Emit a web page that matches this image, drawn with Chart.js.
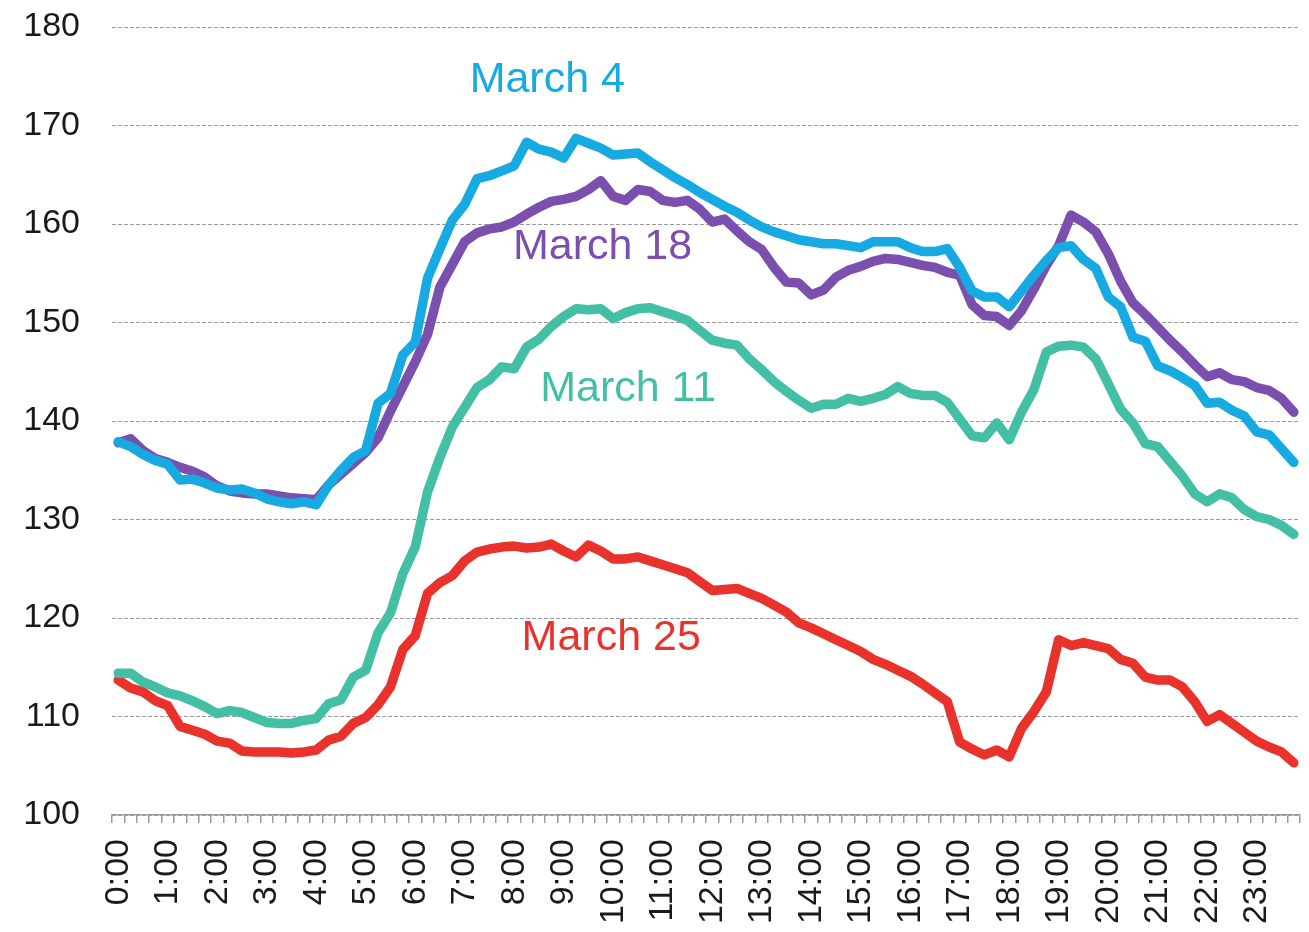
<!DOCTYPE html>
<html lang="en">
<head>
    <meta charset="UTF-8">
    <title>Traffic by time of day - March</title>
    <script src="https://cdn.jsdelivr.net/npm/chart.js"></script>
    <style>
        body {
            margin: 0;
            padding: 0;
            background-color: #ffffff;
        }
        #wrap {
            width: 1309px;
            height: 932px;
        }
    </style>
</head>
<body>
    <div id="wrap"><canvas id="grafico"></canvas></div>

    <script>
        // hour labels shown under the axis, one per 4 quarter-hour slots
        const hours = ['0:00','1:00','2:00','3:00','4:00','5:00','6:00','7:00','8:00','9:00','10:00','11:00',
                       '12:00','13:00','14:00','15:00','16:00','17:00','18:00','19:00','20:00','21:00','22:00','23:00'];
        const quarters = ['00', '15', '30', '45'];
        const times = [];
        hours.forEach(h => quarters.forEach(q => times.push(h.split(':')[0] + ':' + q)));

        const yTicks = [100, 110, 120, 130, 140, 150, 160, 170, 180];

        const march4 = [
            137.9, 137.4, 136.6, 136.0, 135.6, 134.0, 134.1, 133.7, 133.2, 133.0, 133.1, 132.7,
            132.1, 131.8, 131.6, 131.8, 131.5, 133.5, 135.0, 136.3, 137.0, 141.8, 142.8, 146.7,
            148.0, 154.5, 157.5, 160.4, 162.0, 164.6, 164.9, 165.4, 165.9, 168.3, 167.6, 167.3,
            166.7, 168.7, 168.2, 167.7, 167.0, 167.1, 167.2, 166.3, 165.5, 164.7, 164.0, 163.2,
            162.5, 161.8, 161.2, 160.4, 159.7, 159.2, 158.8, 158.4, 158.2, 158.0, 158.0, 157.8,
            157.6, 158.2, 158.2, 158.2, 157.6, 157.2, 157.2, 157.5, 155.6, 153.2, 152.6, 152.6,
            151.6, 153.2, 154.8, 156.3, 157.6, 157.8, 156.4, 155.5, 152.6, 151.6, 148.5, 148.1,
            145.6, 145.1, 144.4, 143.6, 141.8, 141.9, 141.1, 140.5, 138.9, 138.6, 137.2, 135.8
        ];
        const march18 = [
            137.8, 138.2, 137.0, 136.2, 135.8, 135.3, 134.9, 134.3, 133.4, 132.9, 132.7, 132.6,
            132.6, 132.4, 132.2, 132.1, 132.0, 133.5, 134.6, 135.7, 136.8, 138.3, 141.0, 143.5,
            146.0, 148.8, 153.6, 155.9, 158.2, 159.1, 159.5, 159.7, 160.2, 161.0, 161.7, 162.3,
            162.5, 162.8, 163.5, 164.4, 162.8, 162.4, 163.5, 163.3, 162.4, 162.2, 162.4, 161.5,
            160.2, 160.5, 159.3, 158.2, 157.4, 155.6, 154.1, 154.0, 152.8, 153.3, 154.6, 155.3,
            155.7, 156.2, 156.5, 156.4, 156.1, 155.8, 155.6, 155.1, 154.8, 151.8, 150.7, 150.6,
            149.7, 151.2, 153.4, 155.8, 157.8, 160.9, 160.2, 159.2, 157.0, 154.2, 152.0, 150.8,
            149.5, 148.2, 147.0, 145.7, 144.5, 144.9, 144.2, 144.0, 143.4, 143.1, 142.3, 140.9
        ];
        const march11 = [
            114.4, 114.4, 113.5, 113.0, 112.4, 112.1, 111.6, 111.0, 110.3, 110.6, 110.4, 109.9,
            109.4, 109.3, 109.3, 109.6, 109.8, 111.3, 111.7, 114.0, 114.7, 118.5, 120.5, 124.5,
            127.2, 132.8, 136.3, 139.4, 141.4, 143.4, 144.2, 145.5, 145.3, 147.5, 148.3, 149.6,
            150.6, 151.4, 151.3, 151.4, 150.4, 151.0, 151.4, 151.5, 151.1, 150.7, 150.2, 149.2,
            148.2, 147.9, 147.7, 146.3, 145.2, 144.0, 143.0, 142.1, 141.3, 141.7, 141.7, 142.3,
            142.0, 142.3, 142.7, 143.5, 142.8, 142.6, 142.6, 141.9, 140.2, 138.5, 138.3, 139.8,
            138.1, 140.9, 143.2, 147.0, 147.6, 147.7, 147.5, 146.3, 143.8, 141.2, 139.8, 137.7,
            137.4, 135.9, 134.4, 132.6, 131.8, 132.6, 132.2, 131.0, 130.3, 130.0, 129.4, 128.5
        ];
        const march25 = [
            113.7, 112.9, 112.5, 111.6, 111.1, 109.0, 108.6, 108.2, 107.5, 107.3, 106.5, 106.4,
            106.4, 106.4, 106.3, 106.4, 106.6, 107.6, 108.0, 109.3, 109.9, 111.2, 113.0, 116.8,
            118.2, 122.5, 123.6, 124.3, 125.8, 126.7, 127.0, 127.2, 127.3, 127.1, 127.2, 127.5,
            126.8, 126.2, 127.4, 126.8, 126.0, 126.0, 126.2, 125.8, 125.4, 125.0, 124.6, 123.7,
            122.8, 122.9, 123.0, 122.5, 122.0, 121.3, 120.6, 119.5, 119.0, 118.4, 117.8, 117.2,
            116.6, 115.8, 115.3, 114.7, 114.1, 113.3, 112.4, 111.5, 107.4, 106.7, 106.1, 106.6,
            105.9, 108.8, 110.5, 112.5, 117.8, 117.2, 117.5, 117.2, 116.9, 115.8, 115.4, 114.0,
            113.7, 113.7, 113.0, 111.5, 109.5, 110.2, 109.3, 108.4, 107.5, 106.9, 106.4, 105.3
        ];

        // series names and where their names sit on the chart (slot index, value)
        const seriesNames = ['March 4', 'March 18', 'March 11', 'March 25'];
        const nameSlot = [28.4, 31.9, 34.1, 32.6];
        const nameValue = [174.6, 157.6, 143.2, 118.0];
        const cores = ['#17a9e1', '#7a4fae', '#43bfa6', '#e8322b'];

        const FONTE = '"Liberation Sans", Arial, sans-serif';

        const nomesPlugin = {
            id: 'nomes',
            afterDatasetsDraw(chart) {
                const ctx = chart.ctx;
                const x = chart.scales.x, y = chart.scales.y;
                ctx.save();
                ctx.font = '43px ' + FONTE;
                ctx.textAlign = 'left';
                ctx.textBaseline = 'middle';
                seriesNames.forEach((nome, i) => {
                    ctx.fillStyle = cores[i];
                    ctx.fillText(nome, x.getPixelForValue(nameSlot[i]), y.getPixelForValue(nameValue[i]));
                });
                ctx.restore();
            }
        };

        const serie = (label, data, cor) => ({
            label, data,
            borderColor: cor,
            backgroundColor: cor,
            borderWidth: 9.5,
            borderJoinStyle: 'round',
            borderCapStyle: 'round',
            pointRadius: 0,
            tension: 0,
            fill: false
        });

        new Chart(document.getElementById('grafico'), {
            type: 'line',
            data: {
                labels: times,
                datasets: [
                    serie(seriesNames[0], march4, cores[0]),
                    serie(seriesNames[1], march18, cores[1]),
                    serie(seriesNames[2], march11, cores[2]),
                    serie(seriesNames[3], march25, cores[3])
                ]
            },
            options: {
                responsive: true,
                maintainAspectRatio: false,
                animation: false,
                layout: { padding: { top: 27, right: 9, left: 0, bottom: 0 } },
                plugins: {
                    legend: { display: false },
                    tooltip: { enabled: false }
                },
                scales: {
                    x: {
                        offset: true,
                        grid: {
                            offset: true,
                            drawOnChartArea: false,
                            drawTicks: true,
                            tickLength: 8,
                            color: '#9a9a9a',
                            lineWidth: 1.5
                        },
                        border: { display: true, color: '#9a9a9a', width: 1.5 },
                        ticks: {
                            autoSkip: false,
                            maxRotation: 90,
                            minRotation: 90,
                            padding: 16,
                            color: '#1a1a1a',
                            font: { family: FONTE, size: 34 },
                            callback: (v, i) => (i % 4 === 0 ? hours[i / 4] : '')
                        },
                        afterFit: s => {
                            s.height = 117;
                            s.paddingLeft = 0;
                            s.paddingRight = 0;
                        }
                    },
                    y: {
                        min: yTicks[0],
                        max: yTicks[yTicks.length - 1],
                        afterBuildTicks: s => { s.ticks = yTicks.map(v => ({ value: v })); },
                        grid: {
                            drawTicks: false,
                            color: '#9a9a9a',
                            lineWidth: 1
                        },
                        border: { display: false, dash: [4, 2] },
                        ticks: {
                            padding: 32,
                            color: '#1a1a1a',
                            font: { family: FONTE, size: 34 }
                        },
                        afterFit: s => {
                            s.width = 112;
                            s.paddingTop = 0;
                            s.paddingBottom = 0;
                        }
                    }
                }
            },
            plugins: [nomesPlugin]
        });
    </script>
</body>
</html>
